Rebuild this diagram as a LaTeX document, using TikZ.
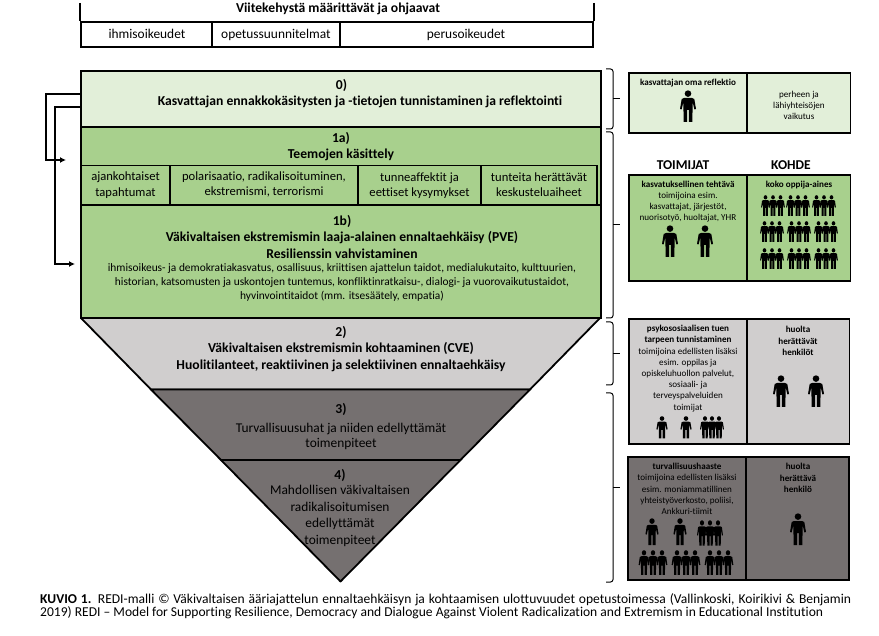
\documentclass[tikz,border=0pt]{standalone}
\usepackage{fontspec}
\setmainfont[Ligatures=NoCommon]{Carlito}
\usepackage{tikz}
\usetikzlibrary{arrows.meta,calc}
\definecolor{redilight}{HTML}{E2EFD9}
\definecolor{redigreen}{HTML}{A8D08D}
\definecolor{redigrey}{HTML}{D0CECE}
\definecolor{redidark}{HTML}{757070}
\tikzset{
  redibody/.style={font=\fontsize{13.4}{15}\selectfont, align=center, inner sep=0pt, text=black},
  redihead/.style={redibody, font=\fontsize{13.65}{16.5}\bfseries\selectfont},
  reditopic/.style={redibody, font=\fontsize{12.6}{15.5}\selectfont},
  redismall/.style={redibody, font=\fontsize{11.4}{14}\selectfont},
  reditiny/.style={redibody, font=\fontsize{9.1}{11.2}\selectfont},
  reditinyhead/.style={redibody, font=\fontsize{9.1}{11.2}\bfseries\selectfont},
}
\newcommand{\redibox}[6] {\node at (#1) (#2) [rectangle, draw, line width=1.8pt, fill=#3, minimum width=#4pt, minimum height=#5pt, inner sep=0pt] {#6};}
\newcommand{\redilabel}[4] {\node at (#1) (#2) [#3] {#4};}
\newcommand{\redilinkfour}[4] {\draw [->, line width=1.3pt] (#1) -- (#2) -- (#3) -- (#4);}
\newcommand{\redibrace}[2] {\draw [line width=1pt, rounded corners=2.5pt] (#1) -- ++(7,0) -- ($(#2)+(7,0)$) -- (#2); \draw [line width=1pt] ($(#1)!.5!(#2)+(7,0)$) -- ++(7,0);}
\newcommand{\redihuman}[3] {\fill [black, shift={(#1)}, x=#2pt, y=-#3pt, line join=round] (0,3.6) circle [x radius=3.3, y radius=3.3] (-4,8) -- (4,8) -- (6.3,9) -- (8,19) -- (6.4,19.5) -- (4.6,12) -- (4.4,32) -- (.8,32) -- (.8,20) -- (-.8,20) -- (-.8,32) -- (-4.4,32) -- (-4.6,12) -- (-6.4,19.5) -- (-8,19) -- (-6.3,9) -- cycle;}
\newcommand{\redigroup}[5] {\redihuman{#1-#3,#2}{#4}{#5} \redihuman{#1+#3,#2}{#4}{#5} \redihuman{#1,#2}{#4}{#5}}
\begin{document}
\begin{tikzpicture}[x=1pt, y=-1pt, >={Latex[length=6pt,width=6pt]}]
\useasboundingbox (0,0) rectangle (879,636);

\redilabel {338,9}{framehead}{redihead}{Viitekehystä määrittävät ja ohjaavat}
\redibox {146.5,34.5}{rights}{white}{131}{25}{}
\redibox {276.5,34.5}{curricula}{white}{128}{25}{}
\redibox {466.5,34.5}{basics}{white}{253}{25}{}
\coordinate (frameleft) at (rights.north west |- 0,3);
\coordinate (frameright) at (basics.north east |- 0,3);
\draw [line width=1.8pt] (frameleft) -- (rights.north west);
\draw [line width=1.8pt] (frameright) -- (basics.north east);
\redilabel {147,34}{rightstext}{redibody}{ihmisoikeudet}
\redilabel {276,35}{curriculatext}{redibody}{opetussuunnitelmat}
\redilabel {466,35}{basicstext}{redibody}{perusoikeudet}

\redibox {341,99}{zero}{redilight}{520}{56}{}
\redilabel {341.5,85}{zeronum}{redihead}{0)}
\redilabel {360,102}{zerotext}{redihead}{Kasvattajan ennakkokäsitysten ja -tietojen tunnistaminen ja reflektointi}

\redibox {341,166}{onea}{redigreen}{520}{78}{}
\redilabel {341,146.5}{oneahead}{redihead}{1a)\\Teemojen käsittely}
\redibox {125.5,185}{topica}{redigreen}{89}{39}{}
\redibox {264,185}{topicb}{redigreen}{188}{39}{}
\redibox {419.5,185}{topicc}{redigreen}{123}{39}{}
\redibox {539,185}{topicd}{redigreen}{116}{39}{}
\redilabel {125.5,185}{topicatext}{reditopic}{ajankohtaiset\\tapahtumat}
\redilabel {264,184.5}{topicbtext}{reditopic}{polarisaatio, radikalisoituminen,\\ekstremismi, terrorismi}
\redilabel {419.5,185.5}{topicctext}{reditopic}{tunneaffektit ja\\eettiset kysymykset}
\redilabel {539,184.5}{topicdtext}{reditopic}{tunteita herättävät\\keskusteluaiheet}

\redibox {341,261.5}{oneb}{redigreen}{520}{113}{}
\redilabel {342,236.5}{onebhead}{redihead}{1b)\\Väkivaltaisen ekstremismin laaja-alainen ennaltaehkäisy (PVE)\\Resilienssin vahvistaminen}
\redilabel {342,282}{onebtext}{redismall}{ihmisoikeus- ja demokratiakasvatus, osallisuus, kriittisen ajattelun taidot, medialukutaito, kulttuurien,\\historian, katsomusten ja uskontojen tuntemus, konfliktinratkaisu-, dialogi- ja vuorovaikutustaidot,\\hyvinvointitaidot (mm. itsesäätely, empatia)}

\coordinate (apex) at (340.5,581.5);
\coordinate (levelal) at (81,318);
\coordinate (levelar) at (600,318);
\coordinate (levelbl) at (151,389.5);
\coordinate (levelbr) at (530,389.5);
\coordinate (levelcl) at (221,460);
\coordinate (levelcr) at (460.5,460);
\filldraw [fill=redigrey, line width=1.8pt, line join=round] (levelal) -- (levelar) -- (levelbr) -- (levelbl) -- cycle;
\filldraw [fill=redidark, line width=1.8pt, line join=round] (levelbl) -- (levelbr) -- (levelcr) -- (levelcl) -- cycle;
\filldraw [fill=redidark, line width=1.8pt, line join=round] (levelcl) -- (levelcr) -- (apex) -- cycle;
\redilabel {341,349}{twotext}{redihead}{2)\\Väkivaltaisen ekstremismin kohtaaminen (CVE)\\Huolitilanteet, reaktiivinen ja selektiivinen ennaltaehkäisy}
\redilabel {341,409}{threenum}{redihead}{3)}
\redilabel {341,436}{threetext}{redibody}{Turvallisuusuhat ja niiden edellyttämät\\toimenpiteet}
\redilabel {340,475}{fournum}{redihead}{4)}
\redilabel {340,516}{fourtext}{redibody, font=\fontsize{13.4}{16.6}\selectfont}{Mahdollisen väkivaltaisen\\radikalisoitumisen\\edellyttämät\\toimenpiteet}

\coordinate (looponea) at (81,94);
\coordinate (looponeb) at (46,94);
\coordinate (looponec) at (46,160);
\coordinate (looponed) at (66,160);
\redilinkfour {looponea}{looponeb}{looponec}{looponed}
\coordinate (looptwoa) at (81,107);
\coordinate (looptwob) at (55,107);
\coordinate (looptwoc) at (55,264);
\coordinate (looptwod) at (75,264);
\redilinkfour {looptwoa}{looptwob}{looptwoc}{looptwod}

\coordinate (bracezeroa) at (606,69);
\coordinate (bracezerob) at (606,129);
\redibrace {bracezeroa}{bracezerob}
\coordinate (braceonea) at (606,132);
\coordinate (braceoneb) at (606,318);
\redibrace {braceonea}{braceoneb}
\coordinate (bracetwoa) at (606,322);
\coordinate (bracetwob) at (606,385);
\redibrace {bracetwoa}{bracetwob}
\coordinate (bracethreea) at (606,393);
\coordinate (bracethreeb) at (606,582);
\redibrace {bracethreea}{bracethreeb}

\redibox {688,103}{reflection}{redilight}{118}{60}{}
\redilabel {688,83}{reflectiontext}{reditinyhead}{kasvattajan oma reflektio}
\redihuman{688,90}{1}{1}
\redibox {799,103}{family}{redilight}{103}{60}{}
\redilabel {799,105.5}{familytext}{reditiny}{perheen ja\\lähiyhteisöjen\\vaikutus}

\redilabel {683,165}{actors}{redihead, font=\fontsize{13.5}{16}\bfseries\selectfont}{TOIMIJAT}
\redilabel {791,165}{target}{redihead, font=\fontsize{13.5}{16}\bfseries\selectfont}{KOHDE}

\redibox {688,228}{task}{redigreen}{118}{106}{}
\redilabel {688,201.5}{tasktext}{reditiny}{\textbf{kasvatuksellinen tehtävä}\\toimijoina esim.\\kasvattajat, järjestöt,\\nuorisotyö, huoltajat, YHR}
\redihuman{670,225}{1}{1}
\redihuman{705,225}{1}{1}
\redibox {799,228}{learners}{redigreen}{103}{106}{}
\redilabel {799,185}{learnerstext}{reditinyhead}{koko oppija-aines}
\redigroup{773}{195}{7.5}{.55}{.65}
\redigroup{798}{195}{7.5}{.55}{.65}
\redigroup{824}{195}{7.5}{.55}{.65}
\redigroup{772}{221}{7.5}{.55}{.65}
\redigroup{799}{221}{7.5}{.55}{.65}
\redigroup{826}{221}{7.5}{.55}{.65}
\redigroup{772}{248}{7.5}{.55}{.65}
\redigroup{799}{248}{7.5}{.55}{.65}
\redigroup{826}{248}{7.5}{.55}{.65}

\redibox {688,381.5}{concern}{redigrey}{118}{125}{}
\redilabel {688,368.5}{concerntext}{reditiny}{\textbf{psykososiaalisen tuen}\\\textbf{tarpeen tunnistaminen}\\toimijoina edellisten lisäksi\\esim. oppilas ja\\opiskeluhuollon palvelut,\\sosiaali- ja\\terveyspalveluiden\\toimijat}
\redihuman{662,416}{.7}{.7}
\redihuman{686,416}{.7}{.7}
\redigroup{712}{416}{7}{.62}{.7}
\redibox {798.5,381.5}{concerned}{redigrey}{102}{125}{}
\redilabel {798,341}{concernedtext}{reditinyhead}{huolta\\herättävät\\henkilöt}
\redihuman{781,375}{1}{1}
\redihuman{816,375}{1}{1}

\redibox {687,518.5}{threat}{redidark}{118}{123}{}
\redilabel {687,489}{threattext}{reditiny}{\textbf{turvallisuushaaste}\\toimijoina edellisten lisäksi\\esim. moniammatillinen\\yhteistyöverkosto, poliisi,\\Ankkuri-tiimit}
\redihuman{652,518}{.82}{.85}
\redihuman{680,518}{.82}{.85}
\redigroup{710}{520}{8}{.62}{.8}
\redigroup{653}{550}{9}{.67}{.78}
\redigroup{686}{550}{9}{.67}{.78}
\redigroup{719}{550}{9}{.67}{.78}
\redibox {797.5,518.5}{threatening}{redidark}{103}{123}{}
\redilabel {798,478}{threateningtext}{reditinyhead}{huolta\\herättävä\\henkilö}
\redihuman{798,513}{1}{1}

\node at (40,606.5) (caption) [anchor=west, align=left, inner sep=0pt, font=\fontsize{13.55}{13.2}\selectfont] {\makebox[811pt][s]{\textbf{KUVIO 1.} REDI-malli © Väkivaltaisen ääriajattelun ennaltaehkäisyn ja kohtaamisen ulottuvuudet opetustoimessa (Vallinkoski, Koirikivi \& Benjamin}\\2019) REDI – Model for Supporting Resilience, Democracy and Dialogue Against Violent Radicalization and Extremism in Educational Institution};

\end{tikzpicture}
\end{document}
